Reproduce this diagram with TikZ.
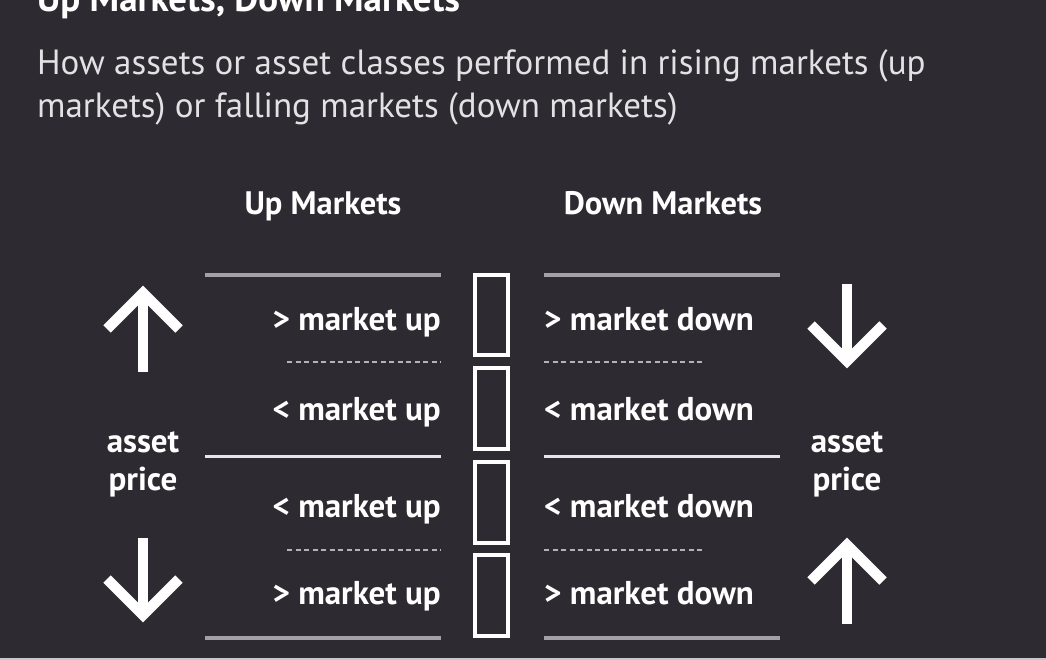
\documentclass[tikz,border=0pt]{standalone}
\usepackage{fontspec}
\setmainfont{PT Sans}
\definecolor{bg}{HTML}{2D2A31}
\definecolor{sub}{HTML}{E2E2E4}
\definecolor{rulegray}{HTML}{A2A1A6}
\definecolor{rulelight}{HTML}{E6E6E8}
\definecolor{dotgray}{HTML}{B4B3B8}
\begin{document}
\begin{tikzpicture}[x=1pt,y=-1pt,
  lbl/.style={text=white,font=\fontsize{33}{36}\selectfont\bfseries,inner sep=0pt},
  hdr/.style={text=white,font=\fontsize{32.5}{35}\selectfont\bfseries,inner sep=0pt,anchor=base},
  subt/.style={text=sub,font=\fontsize{35}{43}\selectfont,inner sep=0pt,anchor=base west},
  solidrule/.style={draw=rulegray,line width=4pt},
  midrule/.style={draw=rulelight,line width=3pt},
  dotrule/.style={draw=dotgray,line width=2.2pt,dash pattern=on 5pt off 3.5pt},
  cell/.style={draw=white,line width=4pt,fill=none},
  bigarrow/.style={draw=white,line width=10.5pt,miter limit=10,line join=miter},
]
\fill[bg] (0,0) rectangle (1046,660);
\useasboundingbox (0,0) rectangle (1046,660);
\clip (0,0) rectangle (1046,660);
\fill[rulegray!60] (0,658) rectangle (1046,660);

% title and subtitle
\node[anchor=base west,text=white,inner sep=0pt,font=\fontsize{37}{40}\selectfont\bfseries] (title) at (37,12) {Up Markets, Down Markets};
\node[subt] (sub1) at (37,75) {How assets or asset classes performed in rising markets (up};
\node[subt] (sub2) at (37,118) {markets) or falling markets (down markets)};

% column headers
\node[hdr] (hup) at (323,215) {Up Markets};
\node[hdr] (hdown) at (663,215) {Down Markets};

% rule endpoints
\coordinate (l1a) at (205,275); \coordinate (l1b) at (441,275);
\coordinate (l2a) at (287,362); \coordinate (l2b) at (441,362);
\coordinate (l3a) at (205,456); \coordinate (l3b) at (441,456);
\coordinate (l4a) at (287,550); \coordinate (l4b) at (441,550);
\coordinate (l5a) at (205,638); \coordinate (l5b) at (441,638);
\coordinate (r1a) at (544,275); \coordinate (r1b) at (780,275);
\coordinate (r2a) at (544,362); \coordinate (r2b) at (703,362);
\coordinate (r3a) at (544,456); \coordinate (r3b) at (780,456);
\coordinate (r4a) at (544,550); \coordinate (r4b) at (703,550);
\coordinate (r5a) at (544,638); \coordinate (r5b) at (780,638);

\draw[solidrule] (l1a) -- (l1b);
\draw[dotrule] (l2a) -- (l2b);
\draw[midrule] (l3a) -- (l3b);
\draw[dotrule] (l4a) -- (l4b);
\draw[solidrule] (l5a) -- (l5b);
\draw[solidrule] (r1a) -- (r1b);
\draw[dotrule] (r2a) -- (r2b);
\draw[midrule] (r3a) -- (r3b);
\draw[dotrule] (r4a) -- (r4b);
\draw[solidrule] (r5a) -- (r5b);

% center cells
\coordinate (c1a) at (475,275); \coordinate (c1b) at (508,355);
\coordinate (c2a) at (475,368); \coordinate (c2b) at (508,449);
\coordinate (c3a) at (475,462); \coordinate (c3b) at (508,543);
\coordinate (c4a) at (475,555); \coordinate (c4b) at (508,636);
\draw[cell] (c1a) rectangle (c1b);
\draw[cell] (c2a) rectangle (c2b);
\draw[cell] (c3a) rectangle (c3b);
\draw[cell] (c4a) rectangle (c4b);

% labels left
\node[lbl,anchor=base east] (u1) at (441,330) {> market up};
\node[lbl,anchor=base east] (u2) at (441,420) {< market up};
\node[lbl,anchor=base east] (u3) at (441,517) {< market up};
\node[lbl,anchor=base east] (u4) at (441,604) {> market up};
% labels right
\node[lbl,anchor=base west] (d1) at (544,330) {> market down};
\node[lbl,anchor=base west] (d2) at (544,420) {< market down};
\node[lbl,anchor=base west] (d3) at (544,517) {< market down};
\node[lbl,anchor=base west] (d4) at (544,604) {> market down};

% asset price
\node[lbl,anchor=base] (apl1) at (143,452) {asset};
\node[lbl,anchor=base] (apl2) at (143,490) {price};
\node[lbl,anchor=base] (apr1) at (847,452) {asset};
\node[lbl,anchor=base] (apr2) at (847,490) {price};

% arrows left
\coordinate (lua) at (107,329); \coordinate (lut) at (143,293); \coordinate (lub) at (179,329); \coordinate (lus) at (143,372);
\draw[bigarrow] (lua) -- (lut) -- (lub);
\draw[bigarrow] (lut) -- (lus);
\coordinate (lda) at (107,579); \coordinate (ldt) at (143,615); \coordinate (ldb) at (179,579); \coordinate (lds) at (143,538);
\draw[bigarrow] (lda) -- (ldt) -- (ldb);
\draw[bigarrow] (ldt) -- (lds);
% arrows right
\coordinate (rda) at (811,325); \coordinate (rdt) at (847,361); \coordinate (rdb) at (883,325); \coordinate (rds) at (847,284);
\draw[bigarrow] (rda) -- (rdt) -- (rdb);
\draw[bigarrow] (rdt) -- (rds);
\coordinate (rua) at (811,581); \coordinate (rut) at (847,545); \coordinate (rub) at (883,581); \coordinate (rus) at (847,624);
\draw[bigarrow] (rua) -- (rut) -- (rub);
\draw[bigarrow] (rut) -- (rus);
\end{tikzpicture}
\end{document}
